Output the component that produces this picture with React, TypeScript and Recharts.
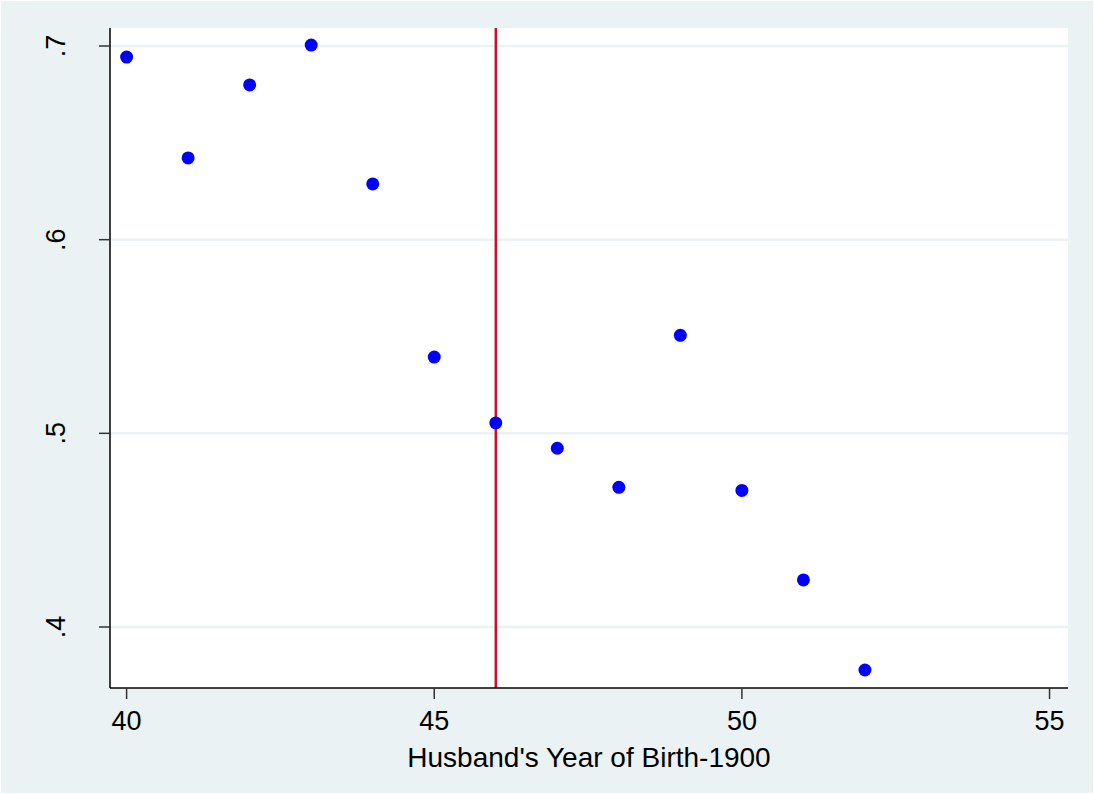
import { CartesianGrid, ReferenceLine, Scatter, ScatterChart, XAxis, YAxis } from 'recharts'

const birthYears = [40, 41, 42, 43, 44, 45, 46, 47, 48, 49, 50, 51, 52]
const shares = [0.6943, 0.6422, 0.6799, 0.7005, 0.6288, 0.5394, 0.5054, 0.4923, 0.4721, 0.5506, 0.4705, 0.4243, 0.3778]
const xTicks = [40, 45, 50, 55]
const yTicks = [0.4, 0.5, 0.6, 0.7]
const cutoffYear = 46
const xTitle = "Husband's Year of Birth-1900"

const data = birthYears.map((year, i) => ({ year, share: shares[i] }))

const FONT = '"Liberation Sans", Arial, sans-serif'
const BG = '#EAF2F3'

// stata prints .4 instead of 0.4
const fmtY = (v: number) => v.toFixed(1).replace(/^0/, '')

function YTick(props: any) {
  const { y, payload } = props
  const x = 65
  return (
    <text
      x={x}
      y={y}
      transform={`rotate(-90, ${x}, ${y})`}
      textAnchor="middle"
      fontSize={27}
      fontFamily={FONT}
      fill="#000"
    >
      {fmtY(payload.value)}
    </text>
  )
}

function XTick(props: any) {
  const { x, payload } = props
  return (
    <text x={x} y={730} textAnchor="middle" fontSize={27} fontFamily={FONT} fill="#000">
      {payload.value}
    </text>
  )
}

function Dot(props: any) {
  return <circle cx={props.cx} cy={props.cy} r={6.5} fill="#0000FF" />
}

export default function App() {
  return (
    <div
      style={{
        position: 'absolute',
        left: 0,
        top: 0,
        width: 1094,
        height: 794,
        background: BG,
        boxShadow: 'inset 0 0 0 1px #fff',
      }}
    >
      <ScatterChart width={1094} height={794} margin={{ top: 28, right: 26, bottom: 0, left: 0 }}>
        <CartesianGrid vertical={false} fill="#fff" stroke={BG} strokeWidth={2.5} horizontalValues={yTicks} />
        <XAxis
          type="number"
          dataKey="year"
          domain={[39.73, 55.3]}
          ticks={xTicks}
          allowDataOverflow
          height={106}
          tickSize={11}
          tickLine={{ stroke: '#333', strokeWidth: 1.5 }}
          axisLine={{ stroke: '#000', strokeWidth: 1.5 }}
          tick={<XTick />}
          label={{ value: xTitle, position: 'insideBottom', offset: 27, fontSize: 28, fontFamily: FONT, fill: '#000' }}
        />
        <YAxis
          type="number"
          dataKey="share"
          domain={[0.3685, 0.7093]}
          ticks={yTicks}
          allowDataOverflow
          width={110}
          tickSize={11}
          tickLine={{ stroke: '#333', strokeWidth: 1.5 }}
          axisLine={{ stroke: '#000', strokeWidth: 1.5 }}
          tick={<YTick />}
        />
        <ReferenceLine x={cutoffYear} stroke="#C8102E" strokeWidth={2.5} />
        <Scatter data={data} shape={<Dot />} isAnimationActive={false} />
      </ScatterChart>
    </div>
  )
}
